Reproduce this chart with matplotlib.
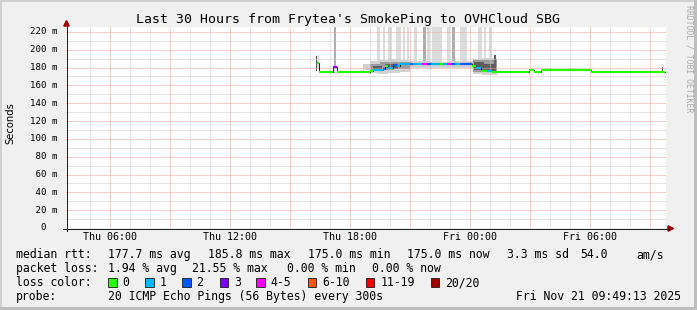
import matplotlib
matplotlib.use("Agg")
import matplotlib.pyplot as plt
from matplotlib.patches import Rectangle, Polygon
from matplotlib.lines import Line2D
from matplotlib.transforms import blended_transform_factory

W, H = 697, 310
MONO = "DejaVu Sans Mono"

# ---------------- data ----------------
title = "Last 30 Hours from Frytea's SmokePing to OVHCloud SBG"
x_start, x_end = 3.80, 33.80          # hours since Thu 00:00
y_top = 225.5                         # ms
x_tick_hours = [6, 12, 18, 24, 30]
x_tick_labels = ["Thu 06:00", "Thu 12:00", "Thu 18:00", "Fri 00:00", "Fri 06:00"]
y_tick_values = [0, 20, 40, 60, 80, 100, 120, 140, 160, 180, 200, 220]
y_tick_labels = ["  0", " 20 m", " 40 m", " 60 m", " 80 m", "100 m", "120 m",
                 "140 m", "160 m", "180 m", "200 m", "220 m"]

# median rtt, piecewise (start hour, end hour, ms, loss class)
med_start = [16.35, 16.45, 17.15, 17.35, 19.00, 19.15, 19.65, 19.75, 19.90, 20.15,
             20.35, 20.50, 21.00, 21.15, 21.60, 21.85, 22.05, 22.50, 22.65, 22.85,
             23.10, 23.25, 23.50, 24.10, 24.30, 24.55, 24.85, 25.10, 26.95, 27.20,
             27.55, 30.05]
med_end = [16.45, 17.15, 17.35, 19.00, 19.15, 19.65, 19.75, 19.90, 20.15, 20.35,
           20.50, 21.00, 21.15, 21.60, 21.85, 22.05, 22.50, 22.65, 22.85, 23.10,
           23.25, 23.50, 24.10, 24.30, 24.55, 24.85, 25.10, 26.95, 27.20, 27.55,
           30.05, 33.75]
med_ms = [185.5, 175.5, 181.0, 175.5, 176.0, 177.0, 178.0, 181.5, 179.0, 183.0,
          182.0, 183.5, 184.5, 184.0, 184.0, 184.0, 184.0, 184.0, 184.5, 184.0,
          184.0, 183.5, 184.0, 182.0, 179.0, 176.5, 176.5, 175.2, 177.8, 175.2,
          177.8, 175.2]
med_loss = [0, 0, 3, 0, 0, 1, 2, 0, 1, 2,
            1, 1, 2, 1, 4, 2, 1, 0, 1, 4,
            2, 1, 2, 0, 1, 0, 1, 0, 0, 0,
            0, 0]

loss_labels = ["0", "1", "2", "3", "4-5", "6-10", "11-19", "20/20"]
loss_colors = ["#26ff00", "#00b8ff", "#0059ff", "#7e00ff",
               "#ff00ff", "#ff5500", "#ff0000", "#a10000"]

# smoke: tall light spikes (pings above the graph top)
spk_l_start = [16.36, 19.35, 19.65, 19.90, 20.30, 20.65, 20.85, 21.20, 21.85, 22.10,
               22.85, 23.50, 24.40, 24.70, 24.95]
spk_l_end = [16.45, 19.50, 19.75, 20.10, 20.55, 20.75, 20.95, 21.35, 22.00, 22.60,
             23.00, 23.85, 24.60, 24.80, 25.10]
spk_l_low = [178, 178, 180, 179, 182, 183, 183, 184, 184, 184,
             184, 184, 179, 177, 176]
spk_l_high = [194, 240, 240, 240, 240, 240, 240, 240, 240, 240,
              240, 240, 240, 240, 240]
# smoke: darker tall spikes
spk_d_start = [17.20, 21.65, 23.10]
spk_d_end = [17.32, 21.80, 23.25]
spk_d_low = [181, 184, 184]
spk_d_high = [240, 240, 240]
# smoke bands around the median
outer_start = [18.65, 19.00, 19.40, 19.90, 20.50, 21.00, 22.00, 23.00, 24.15, 24.60]
outer_end = [19.00, 19.40, 19.90, 20.50, 21.00, 22.00, 23.00, 24.15, 24.60, 25.35]
outer_low = [177.0, 174.0, 173.0, 174.0, 175.0, 180.0, 179.5, 180.0, 173.0, 172.0]
outer_high = [184.0, 187.0, 189.0, 190.0, 188.0, 187.0, 186.5, 187.0, 190.0, 191.0]
inner_start = [19.00, 19.50, 20.20, 21.00, 24.15]
inner_end = [19.50, 20.20, 21.00, 24.15, 25.35]
inner_low = [176.0, 177.0, 178.0, 182.5, 175.0]
inner_high = [184.0, 186.0, 186.5, 185.5, 188.0]
core_start = [16.30, 19.15, 19.75, 24.20, 24.70, 25.20, 33.60]
core_end = [16.36, 19.60, 20.40, 24.70, 25.20, 25.32, 33.65]
core_low = [176.0, 177.0, 178.0, 177.0, 176.0, 176.0, 175.0]
core_high = [193.0, 182.0, 184.0, 186.0, 184.0, 194.0, 181.0]

rtt_label = "median rtt:"
rtt_items = ["177.7 ms avg", "185.8 ms max", "175.0 ms min", "175.0 ms now",
             "3.3 ms sd", "54.0", "am/s"]
loss_label = "packet loss:"
loss_items = ["1.94 % avg", "21.55 % max", "0.00 % min", "0.00 % now"]
color_label = "loss color:"
probe_label = "probe:"
probe_text = "20 ICMP Echo Pings (56 Bytes) every 300s"
stamp_text = "Fri Nov 21 09:49:13 2025"
watermark = "RRDTOOL / TOBI OETIKER"
y_label = "Seconds"

# ---------------- layout ----------------
def fx(px):
    return px / W


def fy(py):
    return 1 - py / H


fig = plt.figure(figsize=(W / 100, H / 100), dpi=100)
fig.patch.set_facecolor("#f0f0f0")

ax = fig.add_axes([fx(66), fy(228), 600 / W, 201 / H])
ax.set_facecolor("white")
ax.set_xlim(x_start, x_end)
ax.set_ylim(0, y_top)
for s in ax.spines.values():
    s.set_visible(False)

# grid (1 px dots)
dot = (0, (1, 1))
for h in range(5, 34):
    major = h % 3 == 0
    ax.axvline(h, color="#eea0a0" if major else "#cccccc", lw=0.72, ls=dot,
               zorder=2.5 if major else 2.4)
for v in range(10, 221, 10):
    major = v % 20 == 0
    ax.axhline(v, color="#eea0a0" if major else "#cccccc", lw=0.72, ls=dot,
               zorder=2.5 if major else 2.4)


def bars(st, en, lo, hi, color, z):
    ax.bar(st, [b - a for a, b in zip(lo, hi)], width=[e - s for s, e in zip(st, en)],
           bottom=lo, align="edge", color=color, linewidth=0, zorder=z)


bars(spk_l_start, spk_l_end, spk_l_low, spk_l_high, "#dcdcdc", 1.0)
bars(spk_d_start, spk_d_end, spk_d_low, spk_d_high, "#adadad", 1.1)
bars(outer_start, outer_end, outer_low, outer_high, "#d2d2d2", 1.2)
bars(inner_start, inner_end, inner_low, inner_high, "#9c9c9c", 1.3)
bars(core_start, core_end, core_low, core_high, "#5e5e5e", 1.4)

# median line: thin dark connectors + coloured loss segments
ax.step(med_start + [med_end[-1]], med_ms + [med_ms[-1]], where="post",
        color="#202020", lw=0.7, zorder=3.5)
for s, e, m, l in zip(med_start, med_end, med_ms, med_loss):
    ax.hlines(m, s, e, color=loss_colors[l], lw=1.6, zorder=4)

# ticks and labels
ax.set_xticks(x_tick_hours)
ax.set_xticklabels(x_tick_labels, fontfamily=MONO, fontsize=7.2)
ax.tick_params(axis="x", length=0, pad=3.2)
ax.set_yticks([])
tr = blended_transform_factory(fig.transFigure, ax.transData)
for v, lab in zip(y_tick_values, y_tick_labels):
    ax.text(fx(30.0), v, lab, transform=tr, ha="left", va="center",
            family=MONO, fontsize=6.6)

# axes lines and arrows
fig.add_artist(Line2D([fx(62.5), fx(669)], [fy(228.5), fy(228.5)], color="#202020", lw=0.75))
fig.add_artist(Line2D([fx(66.5), fx(66.5)], [fy(231), fy(24)], color="#202020", lw=0.75))
fig.add_artist(Polygon([(fx(63.8), fy(26)), (fx(69.2), fy(26)), (fx(66.5), fy(20.5))],
                       closed=True, color="#a00000", transform=fig.transFigure))
fig.add_artist(Polygon([(fx(668), fy(225.8)), (fx(668), fy(231.2)), (fx(673.5), fy(228.5))],
                       closed=True, color="#a00000", transform=fig.transFigure))

# texts
fig.text(fx(348), fy(19.3), title, ha="center", va="center", family=MONO, fontsize=9.55)
fig.text(fx(10), fy(123), y_label, rotation=90, ha="center", va="center",
         family="DejaVu Sans", fontsize=7.2)
fig.text(fx(688.5), fy(5), watermark, rotation=270, ha="center", va="top",
         family=MONO, fontsize=5.9, color="#a8a8a8")

LEG = 8.3
row_y = [254.6, 268.6, 282.6, 296.4]
fig.text(fx(16), fy(row_y[0]), rtt_label, ha="left", va="center", family=MONO, fontsize=LEG)
for x, t in zip([107.5, 207.5, 307.5, 407.5, 507, 580, 636], rtt_items):
    fig.text(fx(x), fy(row_y[0]), t, ha="left", va="center", family=MONO, fontsize=LEG)
fig.text(fx(16), fy(row_y[1]), loss_label, ha="left", va="center", family=MONO, fontsize=LEG)
for x, t in zip([107.5, 192.4, 286.7, 372.4], loss_items):
    fig.text(fx(x), fy(row_y[1]), t, ha="left", va="center", family=MONO, fontsize=LEG)
fig.text(fx(16), fy(row_y[2]), color_label, ha="left", va="center", family=MONO, fontsize=LEG)
box_x = [108, 145.3, 182, 219.5, 256.4, 307.5, 365.8, 430.7]
for bx, lab, col in zip(box_x, loss_labels, loss_colors):
    fig.add_artist(Rectangle((fx(bx), fy(287)), 8.5 / W, 9 / H, facecolor=col,
                             edgecolor="#1a1a1a", lw=0.6, transform=fig.transFigure))
    fig.text(fx(bx + 14.5), fy(row_y[2]), lab, ha="left", va="center", family=MONO, fontsize=LEG)
fig.text(fx(16), fy(row_y[3]), probe_label, ha="left", va="center", family=MONO, fontsize=LEG)
fig.text(fx(107.5), fy(row_y[3]), probe_text, ha="left", va="center", family=MONO, fontsize=LEG)
fig.text(fx(680.5), fy(row_y[3]), stamp_text, ha="right", va="center", family=MONO, fontsize=LEG)

# frame shading
fig.add_artist(Rectangle((0, fy(2)), 1, 2 / H, color="#d0d0d0", transform=fig.transFigure, lw=0))
fig.add_artist(Rectangle((0, 0), 2 / W, 1, color="#d0d0d0", transform=fig.transFigure, lw=0))
fig.add_artist(Rectangle((0, 0), 1, 3 / H, color="#bdbdbd", transform=fig.transFigure, lw=0))
fig.add_artist(Rectangle((fx(694), 0), 3 / W, 1, color="#bdbdbd", transform=fig.transFigure, lw=0))

fig.savefig("out.png", dpi=100, facecolor=fig.get_facecolor())
